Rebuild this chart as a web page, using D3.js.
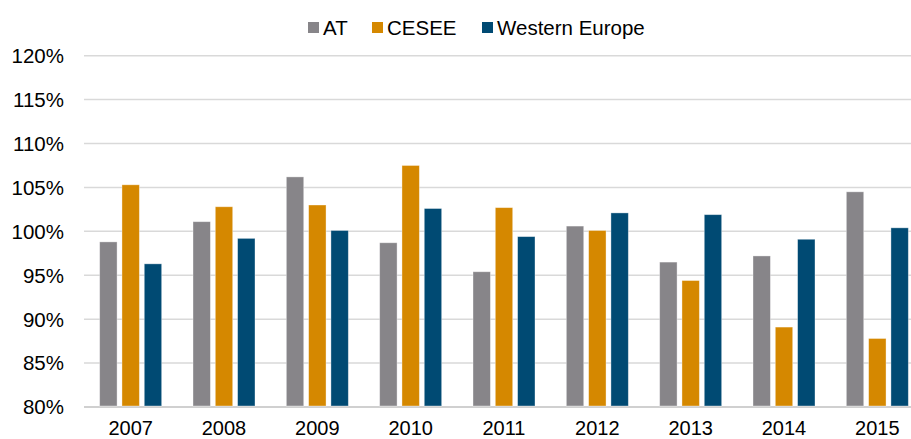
<!DOCTYPE html>
<html>
<head>
<meta charset="utf-8">
<script src="https://cdn.jsdelivr.net/npm/d3@7"></script>
<style>
  body { margin: 0; background: #fff; }
  text { font-family: "Liberation Sans", Arial, sans-serif; fill: #000; }
</style>
</head>
<body>
<div id="chart"></div>
<script>
// years on the x axis
const years = ["2007", "2008", "2009", "2010", "2011", "2012", "2013", "2014", "2015"];
const seriesNames = ["AT", "CESEE", "Western Europe"];
// values in percent
const atValues = [98.8, 101.1, 106.2, 98.7, 95.4, 100.6, 96.5, 97.2, 104.5];
const ceseeValues = [105.3, 102.8, 103.0, 107.5, 102.7, 100.1, 94.4, 89.1, 87.8];
const weValues = [96.3, 99.2, 100.1, 102.6, 99.4, 102.1, 101.9, 99.1, 100.4];
const yTicks = [80, 85, 90, 95, 100, 105, 110, 115, 120];

const colors = ["#878589", "#d58800", "#004a73"];
const width = 911, height = 439;
const margin = { top: 55, right: -13, bottom: 32, left: 84 };

const series = [atValues, ceseeValues, weValues];

const svg = d3.select("#chart").append("svg")
    .attr("width", width)
    .attr("height", height);

const x = d3.scaleBand()
  .domain(years)
  .range([margin.left, width - margin.right]);

const x1 = d3.scaleBand()
  .domain(seriesNames)
  .range([0, 62])
  .paddingInner(0.22);

const y = d3.scaleLinear()
  .domain([80, 120])
  .range([height - margin.bottom, margin.top + 0.7]);

// gridlines
svg.append("g")
  .selectAll("line")
  .data(yTicks)
  .enter()
  .append("line")
    .attr("x1", margin.left)
    .attr("x2", width)
    .attr("y1", d => y(d))
    .attr("y2", d => y(d))
    .attr("stroke", d => d === 80 ? "#d0d0d0" : "#d9d9d9")
    .attr("stroke-width", d => d === 80 ? 2 : 1.5);

// y labels
svg.append("g")
  .selectAll("text")
  .data(yTicks)
  .enter()
  .append("text")
    .attr("x", 64)
    .attr("y", d => y(d))
    .attr("dy", "0.36em")
    .attr("text-anchor", "end")
    .attr("font-size", 20.5)
    .text(d => d + "%");

// bars
const groups = svg.append("g")
  .selectAll("g")
  .data(years)
  .enter()
  .append("g")
    .attr("transform", d => "translate(" + (x(d) + x.bandwidth() / 2 - 31) + ",0)");

groups.selectAll("rect")
  .data((d, i) => seriesNames.map((s, j) => ({ name: s, value: series[j][i], c: colors[j] })))
  .enter()
  .append("rect")
    .attr("x", d => x1(d.name))
    .attr("y", d => y(d.value))
    .attr("width", x1.bandwidth())
    .attr("height", d => y(80) - y(d.value) - 1)
    .attr("fill", d => d.c)
    .attr("stroke", "rgba(255,255,255,0.45)")
    .attr("stroke-width", 0.8);

// x labels
svg.append("g")
  .selectAll("text")
  .data(years)
  .enter()
  .append("text")
    .attr("x", d => x(d) + x.bandwidth() / 2)
    .attr("y", 434.5)
    .attr("text-anchor", "middle")
    .attr("font-size", 20)
    .text(d => d);

// legend
const legendX = [308, 372, 482];
const legend = svg.append("g")
  .selectAll("g")
  .data(seriesNames)
  .enter()
  .append("g")
    .attr("transform", (d, i) => "translate(" + legendX[i] + ",22)");

legend.append("rect")
  .attr("width", 11)
  .attr("height", 11)
  .attr("fill", (d, i) => colors[i]);

legend.append("text")
  .attr("x", 15)
  .attr("y", 12.5)
  .attr("font-size", 20.5)
  .text(d => d);
</script>
</body>
</html>
